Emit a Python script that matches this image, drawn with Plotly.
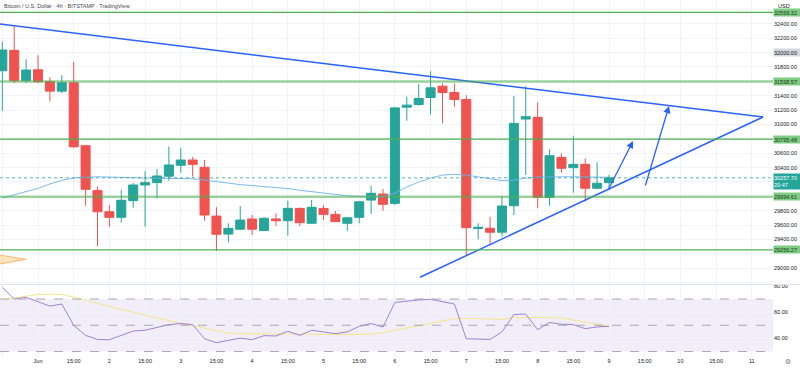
import plotly.graph_objects as go

# ---------------- data ----------------
times = [
    "2022-05-31 15:00", "2022-05-31 19:00", "2022-05-31 23:00",
    "2022-06-01 03:00", "2022-06-01 07:00", "2022-06-01 11:00", "2022-06-01 15:00", "2022-06-01 19:00", "2022-06-01 23:00",
    "2022-06-02 03:00", "2022-06-02 07:00", "2022-06-02 11:00", "2022-06-02 15:00", "2022-06-02 19:00", "2022-06-02 23:00",
    "2022-06-03 03:00", "2022-06-03 07:00", "2022-06-03 11:00", "2022-06-03 15:00", "2022-06-03 19:00", "2022-06-03 23:00",
    "2022-06-04 03:00", "2022-06-04 07:00", "2022-06-04 11:00", "2022-06-04 15:00", "2022-06-04 19:00", "2022-06-04 23:00",
    "2022-06-05 03:00", "2022-06-05 07:00", "2022-06-05 11:00", "2022-06-05 15:00", "2022-06-05 19:00", "2022-06-05 23:00",
    "2022-06-06 03:00", "2022-06-06 07:00", "2022-06-06 11:00", "2022-06-06 15:00", "2022-06-06 19:00", "2022-06-06 23:00",
    "2022-06-07 03:00", "2022-06-07 07:00", "2022-06-07 11:00", "2022-06-07 15:00", "2022-06-07 19:00", "2022-06-07 23:00",
    "2022-06-08 03:00", "2022-06-08 07:00", "2022-06-08 11:00", "2022-06-08 15:00", "2022-06-08 19:00", "2022-06-08 23:00",
    "2022-06-09 03:00",
]
opens = [31746, 32030, 31608, 31760, 31594, 31463, 31580, 30704, 30080, 29786, 29708, 29940, 30158,
         30192, 30280, 30432, 30505, 30404, 29725, 29475, 29543, 29685, 29524, 29685, 29661, 29832,
         29625, 29832, 29749, 29625, 29708, 29948, 30032, 29902, 31240, 31277, 31374, 31532, 31444,
         31347, 29552, 29556, 29501, 29869, 31075, 31099, 29986, 30542, 30398, 30445, 30112, 30190]
highs = [32150, 32382, 31906, 31962, 31655, 31686, 31871, 30710, 30135, 29879, 30088, 30189, 30352,
         30380, 30691, 30676, 30546, 30505, 29848, 29625, 29865, 29740, 29710, 29763, 29938, 29846,
         29948, 29878, 29795, 29716, 29938, 30148, 30102, 31245, 31385, 31561, 31740, 31570, 31570,
         31406, 29625, 29716, 30004, 31396, 31532, 31307, 30654, 30598, 30843, 30528, 30472, 30297]
lows = [31190, 31575, 31575, 31575, 31318, 31433, 30671, 29869, 29310, 29577, 29634, 29842, 29578,
        29971, 30217, 30328, 30273, 29660, 29239, 29360, 29533, 29463, 29520, 29588, 29453, 29588,
        29620, 29671, 29645, 29520, 29625, 29753, 29799, 29879, 31052, 31258, 31141, 31015, 31245,
        29180, 29403, 29333, 29439, 29740, 30297, 29834, 29869, 30328, 30050, 29924, 30098, 30088]
closes = [32035, 31608, 31756, 31594, 31463, 31580, 30689, 30098, 29786, 29708, 29945, 30158, 30190,
          30283, 30436, 30505, 30445, 29740, 29472, 29555, 29670, 29543, 29694, 29661, 29833, 29634,
          29847, 29749, 29648, 29702, 29924, 30042, 29889, 31230, 31268, 31361, 31509, 31444, 31347,
          29564, 29570, 29501, 29865, 31014, 31108, 29986, 30565, 30390, 30445, 30112, 30182, 30257.70]
ma_values = [29977, 30019, 30061, 30110, 30172, 30220, 30255, 30268, 30272, 30268, 30261, 30256, 30254,
             30252, 30250, 30248, 30244, 30226, 30204, 30184, 30163, 30149, 30136, 30122, 30108, 30084,
             30064, 30044, 30024, 30008, 30000, 29997, 29997, 30045, 30129, 30198, 30254, 30296, 30306,
             30296, 30268, 30240, 30219, 30226, 30254, 30268, 30272, 30272, 30272, 30268, 30268, 30266]
rsi_values = [79, 70, 71.3, 68, 64.6, 66.2, 50, 42.3, 39.2, 39, 42.3, 45.6, 46.2,
              48.2, 50.5, 51.3, 50.5, 39.7, 36.7, 38.5, 40.2, 39, 42.1, 41.8, 45.4, 42.3,
              46.2, 44.9, 43.6, 44.9, 49.2, 51.3, 48.7, 67.4, 68.5, 69.3, 69.8, 68, 66.2,
              39.7, 39.5, 39.2, 44.9, 58.2, 58.5, 46.7, 52.1, 50.8, 50.5, 47.4, 48.7, 49.2]
rsi_ma_values = [69.5, 71, 72.5, 73.5, 73.6, 73.6, 71.5, 69, 67, 64.5, 62, 60, 57.5,
                 55.5, 53.5, 51.5, 49.5, 47.5, 45.5, 44, 43.6, 43.6, 43.6, 43.6, 43.6, 43.4,
                 43.2, 43, 42.8, 42.8, 43, 43.3, 44.4, 46.2, 48, 50, 51.8, 53.5, 55,
                 55.3, 55, 54.7, 54.4, 55.8, 56, 56, 56, 55.5, 54, 52.5, 51, 49.2]

levels = [32559.32, 31598.57, 30795.48, 29994.61, 29256.27]
level_thick = [False, True, False, True, False]
last_price = 30257.70
last_time_text = "20:47"

tick_times = ["2022-05-31 15:00", "2022-06-01 03:00", "2022-06-01 15:00", "2022-06-02 03:00",
              "2022-06-02 15:00", "2022-06-03 03:00", "2022-06-03 15:00", "2022-06-04 03:00",
              "2022-06-04 15:00", "2022-06-05 03:00", "2022-06-05 15:00", "2022-06-06 03:00",
              "2022-06-06 15:00", "2022-06-07 03:00", "2022-06-07 15:00", "2022-06-08 03:00",
              "2022-06-08 15:00", "2022-06-09 03:00", "2022-06-09 15:00", "2022-06-10 03:00",
              "2022-06-10 15:00", "2022-06-11 03:00"]
tick_labels = ["15:00", "Jun", "15:00", "2", "15:00", "3", "15:00", "4", "15:00", "5", "15:00",
               "6", "15:00", "7", "15:00", "8", "15:00", "9", "15:00", "10", "15:00", "11"]

price_ticks = [28800, 29000, 29200, 29400, 29600, 29800, 30000, 30200, 30400, 30600, 30800,
               31000, 31200, 31400, 31600, 31800, 32000, 32200, 32400, 32600]
price_tick_text = ["", "29000.00", "", "29400.00", "29600.00", "29800.00", "", "", "30400.00",
                   "30600.00", "", "31000.00", "31200.00", "31400.00", "", "31800.00", "",
                   "32200.00", "32400.00", ""]
rsi_ticks = [40, 60, 80]
rsi_tick_text = ["40.00", "60.00", "80.00"]

# drawings (time, price)
down_trend = (["2022-05-31 12:00", "2022-06-11 06:48"], [32408, 31103])
up_trend = (["2022-06-06 11:26", "2022-06-11 06:48"], [28874, 31103])
arrows = [("2022-06-09 02:41", 30088, "2022-06-09 11:05", 30769),
          ("2022-06-09 15:05", 30130, "2022-06-09 23:10", 31256)]
orange_shape = (["2022-05-31 13:00", "2022-05-31 23:00", "2022-05-31 13:00"], [29190, 29124, 29050])

x_range = ["2022-05-31 14:13", "2022-06-11 10:08"]
price_range = [28780.5, 32730.4]
rsi_range = [26.57, 80.67]

# ---------------- style ----------------
GREEN = "#26a69a"
RED = "#ef5350"
BLUE = "#2962ff"
GRID = "#f0f3fa"
TXT = "#131722"
FONT = "Liberation Sans"

fig = go.Figure()

# RSI pane
fig.add_trace(go.Scatter(x=times, y=rsi_ma_values, mode="lines", yaxis="y2",
                         line=dict(color="#f6e27d", width=0.9), hoverinfo="skip"))
fig.add_trace(go.Scatter(x=times, y=rsi_values, mode="lines", yaxis="y2",
                         line=dict(color="#9575cd", width=0.9), hoverinfo="skip"))

# orange drawing
fig.add_trace(go.Scatter(x=orange_shape[0], y=orange_shape[1], mode="lines", fill="toself",
                         fillcolor="rgba(255,152,0,0.25)", line=dict(color="#ffa64d", width=0.8),
                         hoverinfo="skip"))

# moving average
fig.add_trace(go.Scatter(x=times, y=ma_values, mode="lines",
                         line=dict(color="#6fb1f2", width=0.9), hoverinfo="skip"))

# candles
fig.add_trace(go.Candlestick(
    x=times, open=opens, high=highs, low=lows, close=closes,
    increasing=dict(line=dict(color=GREEN, width=1), fillcolor=GREEN),
    decreasing=dict(line=dict(color=RED, width=1), fillcolor=RED),
    whiskerwidth=0, hoverinfo="skip"))

# trend lines
for tl in (down_trend, up_trend):
    fig.add_trace(go.Scatter(x=tl[0], y=tl[1], mode="lines",
                             line=dict(color=BLUE, width=1.5), hoverinfo="skip"))

shapes = []
for lv, thick in zip(levels, level_thick):
    shapes.append(dict(type="line", xref="paper", x0=0, x1=1, yref="y", y0=lv, y1=lv,
                       line=dict(color="rgba(76,175,80,0.55)" if thick else "#4caf50",
                                 width=2.5 if thick else 1.2)))
shapes.append(dict(type="line", xref="paper", x0=0, x1=1, yref="y", y0=last_price, y1=last_price,
                   line=dict(color=GREEN, width=0.8, dash="dot")))
# RSI band and levels
shapes.append(dict(type="rect", xref="paper", x0=0, x1=1, yref="y2", y0=30, y1=70,
                   fillcolor="rgba(126,87,194,0.1)", line=dict(width=0), layer="below"))
for lv in (70, 50, 30):
    shapes.append(dict(type="line", xref="paper", x0=0, x1=1, yref="y2", y0=lv, y1=lv,
                       line=dict(color="#9598a1", width=0.8, dash="dash")))
# pane separator
shapes.append(dict(type="line", xref="paper", x0=0, x1=1.035, yref="paper", y0=0.2008, y1=0.2008,
                   line=dict(color="#e0e3eb", width=1)))

annotations = []
for lv in levels:
    annotations.append(dict(xref="paper", x=1, xanchor="left", yref="y", y=lv, yanchor="middle",
                            text=f"{lv:.2f}", showarrow=False, bgcolor="#7fcb83",
                            font=dict(size=5.5, color="#1b3a1c", family=FONT),
                            width=26, height=7, align="left", borderpad=0))
annotations.append(dict(xref="paper", x=1, xanchor="left", yref="y", y=last_price, yanchor="top",
                        yshift=5, text=f"{last_price:.2f}<br>{last_time_text}", showarrow=False,
                        bgcolor=GREEN, font=dict(size=5.5, color="white", family=FONT),
                        width=26, height=15, align="left", borderpad=0))
annotations.append(dict(xref="paper", x=1, xanchor="left", yref="y", y=32000, yanchor="middle",
                        text="32000.00", showarrow=False, bgcolor="#d5d7dd",
                        font=dict(size=5.5, color=TXT, family=FONT),
                        width=26, height=7, align="left", borderpad=0))
annotations.append(dict(xref="paper", x=1, xanchor="left", xshift=3, yref="paper", y=1,
                        yanchor="top", yshift=-1, text="USD", showarrow=False,
                        font=dict(size=5.5, color=TXT, family=FONT)))
annotations.append(dict(xref="paper", x=0, xanchor="left", xshift=2, yref="paper", y=1,
                        yanchor="top", yshift=-1,
                        text="Bitcoin / U.S. Dollar · 4h · BITSTAMP · TradingView",
                        showarrow=False, font=dict(size=5.5, color="#434651", family=FONT)))
annotations.append(dict(xref="paper", x=1.02, xanchor="center", yref="paper", y=0,
                        yanchor="middle", yshift=-6, text="⚙", showarrow=False,
                        font=dict(size=7, color="#787b86", family="DejaVu Sans")))
for tx, ty, hx, hy in arrows:
    annotations.append(dict(x=hx, y=hy, xref="x", yref="y", ax=tx, ay=ty, axref="x", ayref="y",
                            text="", showarrow=True, arrowhead=2, arrowsize=1.1,
                            arrowwidth=1.3, arrowcolor=BLUE))

fig.update_layout(
    width=800, height=368,
    margin=dict(l=0, r=27, t=0, b=12, pad=0, autoexpand=False),
    paper_bgcolor="white", plot_bgcolor="white",
    showlegend=False,
    boxgap=0.24, boxgroupgap=0,
    shapes=shapes, annotations=annotations,
    xaxis=dict(type="date", range=x_range, anchor="y2", tickvals=tick_times, ticktext=tick_labels,
               showgrid=True, gridcolor=GRID, gridwidth=1, zeroline=False, showline=False,
               ticks="", ticklen=0, tickfont=dict(size=5.5, color=TXT, family=FONT),
               rangeslider=dict(visible=False), fixedrange=True, automargin=False),
    yaxis=dict(domain=[0.2022, 1], range=price_range, side="right", anchor="x",
               tickvals=price_ticks, ticktext=price_tick_text, showgrid=True, gridcolor=GRID,
               zeroline=False, showline=False, ticks="", ticklen=0,
               tickfont=dict(size=5.5, color=TXT, family=FONT), fixedrange=True, automargin=False),
    yaxis2=dict(domain=[0, 0.1994], range=rsi_range, side="right", anchor="x",
                tickvals=rsi_ticks, ticktext=rsi_tick_text, showgrid=True, gridcolor=GRID,
                zeroline=False, showline=False, ticks="", ticklen=0,
                tickfont=dict(size=5.5, color=TXT, family=FONT), fixedrange=True, automargin=False),
)

fig.write_html("out.html", config={"displayModeBar": False},
               post_script="document.body.style.margin='0';document.body.style.overflow='hidden';")
